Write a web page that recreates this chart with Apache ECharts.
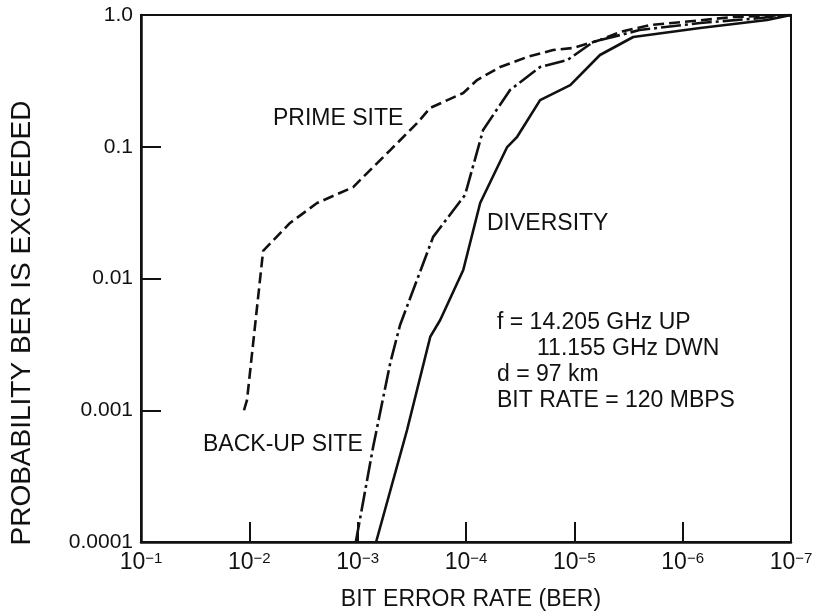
<!DOCTYPE html>
<html>
<head>
<meta charset="utf-8">
<script src="https://cdn.jsdelivr.net/npm/echarts@6/dist/echarts.min.js"></script>
<style>
html,body{margin:0;padding:0;background:#fff;}
#chart{width:816px;height:615px;}
</style>
</head>
<body>
<div id="chart"></div>
<script>
// ---- data ----
// x: bit error rate (BER), y: probability BER is exceeded
const primeBER = [1.12e-2, 1.05e-2, 7.46e-3, 4.21e-3, 2.37e-3, 1.10e-3, 8.9e-4, 5.0e-4, 2.83e-4, 2.14e-4, 1.06e-4, 7.9e-5, 4.84e-5, 2.73e-5, 1.57e-5, 1.03e-5, 5.8e-6, 3.78e-6, 2.0e-6, 9.9e-7, 3.4e-7, 1e-7];
const primeP   = [0.001, 0.0012, 0.0162, 0.0264, 0.0374, 0.0494, 0.0589, 0.0944, 0.151, 0.197, 0.256, 0.321, 0.403, 0.480, 0.542, 0.562, 0.646, 0.743, 0.839, 0.885, 0.966, 1.0];

const backupBER = [1.04e-3, 7.2e-4, 5.0e-4, 4.06e-4, 2.01e-4, 1.02e-4, 6.95e-5, 3.92e-5, 2.07e-5, 1.16e-5, 6.7e-6, 2.5e-6, 6.9e-7, 1.92e-7, 1e-7];
const backupP   = [1e-4, 5.26e-4, 2.29e-3, 4.44e-3, 0.0207, 0.0431, 0.134, 0.270, 0.403, 0.455, 0.624, 0.769, 0.869, 0.948, 1.0];

const diversityBER = [6.76e-4, 3.5e-4, 2.14e-4, 1.73e-4, 1.06e-4, 7.4e-5, 4.17e-5, 3.37e-5, 2.07e-5, 1.09e-5, 5.8e-6, 2.86e-6, 6.9e-7, 1.66e-7, 1e-7];
const diversityP   = [1e-4, 7.08e-4, 3.6e-3, 4.84e-3, 0.0116, 0.0374, 0.0995, 0.119, 0.226, 0.294, 0.497, 0.681, 0.796, 0.916, 1.0];

const yTickLabels = {'0': '1.0', '-1': '0.1', '-2': '0.01', '-3': '0.001', '-4': '0.0001'};
const xTitle = 'BIT ERROR RATE (BER)';
const yTitle = 'PROBABILITY BER IS EXCEEDED';
const annotations = ['PRIME SITE', 'DIVERSITY', 'BACK-UP SITE', 'f = 14.205 GHz UP', '11.155 GHz DWN', 'd = 97 km', 'BIT RATE = 120 MBPS'];

function pairs(xs, ys) { return xs.map((x, i) => [x, ys[i]]); }

const FONT = 'Liberation Sans, Arial, Helvetica, sans-serif';
const INK = '#111';

const chart = echarts.init(document.getElementById('chart'), null, {renderer: 'canvas'});

function txt(text, x, y, size, extra) {
  return Object.assign({
    type: 'text', x: x, y: y,
    style: {text: text, fill: INK, font: size + 'px ' + FONT, textAlign: 'left', textVerticalAlign: 'middle'}
  }, extra || {});
}

chart.setOption({
  backgroundColor: '#fff',
  animation: false,
  grid: {left: 141, right: 25, top: 15, bottom: 73, show: true, borderColor: INK, borderWidth: 2, backgroundColor: 'transparent'},
  xAxis: {
    type: 'log', logBase: 10, min: 1e-7, max: 1e-1, inverse: true,
    axisLine: {show: true, lineStyle: {color: INK, width: 2.5}},
    axisTick: {show: true, inside: true, length: 20, lineStyle: {color: INK, width: 2}},
    splitLine: {show: false},
    minorTick: {show: false},
    axisLabel: {
      margin: 9, color: INK,
      formatter: function (v) {
        const e = Math.round(Math.log10(v));
        return '{a|10}{b|\u2212' + (-e) + '}';
      },
      rich: {
        a: {fontSize: 23, fontFamily: FONT, color: INK},
        b: {fontSize: 15, fontFamily: FONT, color: INK, verticalAlign: 'top'}
      }
    }
  },
  yAxis: {
    type: 'log', logBase: 10, min: 1e-4, max: 1,
    axisLine: {show: true, lineStyle: {color: INK, width: 2.5}},
    axisTick: {show: true, inside: true, length: 20, lineStyle: {color: INK, width: 2}},
    splitLine: {show: false},
    axisLabel: {
      margin: 8, color: INK, fontSize: 21, fontFamily: FONT,
      formatter: function (v) {
        const e = Math.round(Math.log10(v));
        return yTickLabels[String(e)] || '';
      }
    }
  },
  series: [
    {name: 'PRIME SITE', type: 'line', data: pairs(primeBER, primeP), showSymbol: false, symbol: 'none',
     lineStyle: {color: INK, width: 2.6, type: [11, 5]}},
    {name: 'BACK-UP SITE', type: 'line', data: pairs(backupBER, backupP), showSymbol: false, symbol: 'none',
     lineStyle: {color: INK, width: 2.6, type: [20, 4, 3, 4]}},
    {name: 'DIVERSITY', type: 'line', data: pairs(diversityBER, diversityP), showSymbol: false, symbol: 'none',
     lineStyle: {color: INK, width: 2.6}}
  ],
  graphic: [
    txt(annotations[0], 273, 119, 23),
    txt(annotations[1], 487, 224, 23),
    txt(annotations[2], 203, 445, 23),
    txt(annotations[3], 497, 323, 23),
    txt(annotations[4], 537, 349, 23),
    txt(annotations[5], 497, 375, 23),
    txt(annotations[6], 497, 401, 23),
    {type: 'text', x: 471, y: 600,
     style: {text: xTitle, fill: INK, font: '23px ' + FONT, textAlign: 'center', textVerticalAlign: 'middle'}},
    {type: 'text', x: 22, y: 323, rotation: Math.PI / 2,
     style: {text: yTitle, fill: INK, font: '28px ' + FONT, textAlign: 'center', textVerticalAlign: 'middle'}}
  ]
});
</script>
</body>
</html>
